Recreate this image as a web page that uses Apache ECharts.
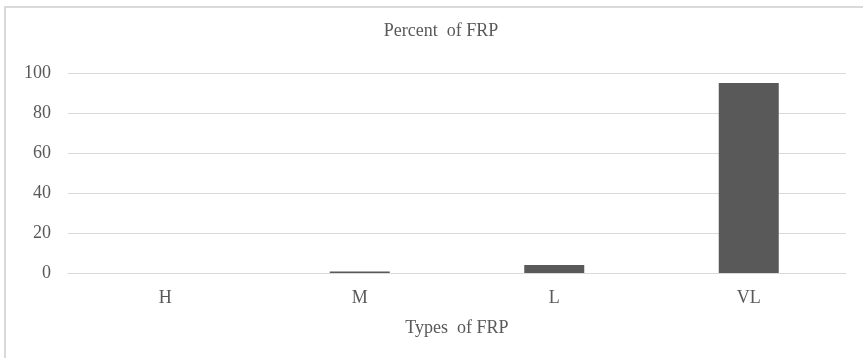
<!DOCTYPE html>
<html>
<head>
<meta charset="utf-8">
<script src="https://cdn.jsdelivr.net/npm/echarts@6/dist/echarts.min.js"></script>
<style>
  html, body { margin: 0; padding: 0; background: #fff; }
  #chart { width: 863px; height: 358px; }
</style>
</head>
<body>
<div id="chart"></div>
<script>
// FRP type shares
const categories = ["H", "M", "L", "VL"];
const percentValues = [0, 0.8, 4, 95];
const yTicks = [0, 20, 40, 60, 80, 100];

const FONT = "'Liberation Serif', 'Times New Roman', serif";
const TEXT = "#595959";

const chart = echarts.init(document.getElementById("chart"));

chart.setOption({
  animation: false,
  // outer frame, only top and left edges show in the picture
  graphic: [{
    type: "rect",
    shape: { x: 5, y: 7, width: 900, height: 400 },
    style: { fill: "none", stroke: "#d9d9d9", lineWidth: 2 }
  }],
  title: {
    text: "Percent  of FRP",
    left: 436,
    textAlign: "center",
    top: 17,
    textStyle: { fontFamily: FONT, fontSize: 18, fontWeight: "normal", color: TEXT }
  },
  grid: { left: 68, right: 17, top: 73, bottom: 85, containLabel: false },
  xAxis: {
    type: "category",
    data: categories,
    name: "Types  of FRP",
    nameLocation: "middle",
    nameGap: 46,
    nameTextStyle: { fontFamily: FONT, fontSize: 18, color: TEXT },
    axisLine: { show: true, lineStyle: { color: "#d9d9d9", width: 1 } },
    axisTick: { show: false },
    axisLabel: { fontFamily: FONT, fontSize: 18, color: TEXT, margin: 16 }
  },
  yAxis: {
    type: "value",
    min: yTicks[0],
    max: yTicks[yTicks.length - 1],
    interval: 20,
    axisLine: { show: false },
    axisTick: { show: false },
    axisLabel: { fontFamily: FONT, fontSize: 18, color: TEXT, margin: 17 },
    splitLine: { lineStyle: { color: "#d9d9d9", width: 1 } }
  },
  series: [{
    type: "bar",
    data: percentValues,
    barWidth: 60,
    itemStyle: { color: "#595959" }
  }]
});
</script>
</body>
</html>
